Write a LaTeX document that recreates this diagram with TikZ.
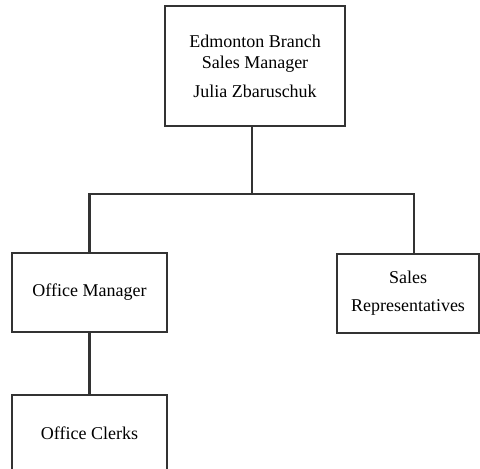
\documentclass[tikz,border=0pt]{standalone}
\usepackage{fontspec}
\setmainfont{Liberation Serif}
\begin{document}
\begin{tikzpicture}[x=1pt,y=-1pt,
  box/.style={draw=black!80, line width=2.2pt, fill=white, rectangle, align=center,
    inner sep=0pt, font=\fontsize{18}{21}\selectfont},
  link/.style={draw=black!80, line width=2.2pt}]
\useasboundingbox (0,0) rectangle (480,469);
\node[box, minimum width=180, minimum height=120] (top) at (255,66)
  {Edmonton Branch\\Sales Manager\\[8pt]Julia Zbaruschuk};
\node[box, minimum width=155, minimum height=79] (om) at (89.5,292.5) {Office Manager};
\node[box, minimum width=142, minimum height=79] (sr) at (408,293.5)
  {Sales\\[7pt]Representatives};
\node[box, minimum width=155, minimum height=76] (oc) at (89.5,433) {Office Clerks};
\coordinate (j) at (252,194);
\draw[link] ([xshift=-3pt]top.south) -- (j);
\draw[link] (om.north) |- (j) -| ([xshift=6pt]sr.north);
\draw[link] (om.south) -- (oc.north);
\end{tikzpicture}
\end{document}
